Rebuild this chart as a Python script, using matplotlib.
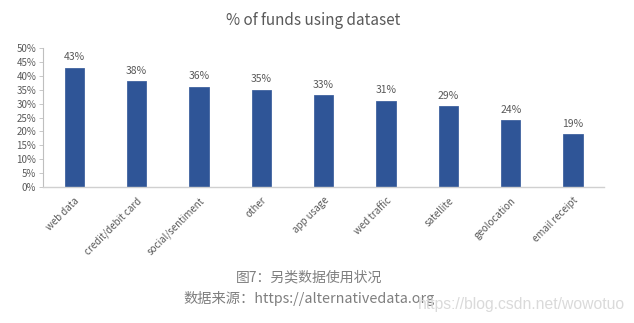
import matplotlib
matplotlib.use('Agg')
import matplotlib.pyplot as plt
import numpy as np

plt.rcParams['font.family'] = ['Noto Sans CJK SC', 'DejaVu Sans']

# data
categories = ['web data', 'credit/debit card', 'social/sentiment', 'other', 'app usage',
              'wed traffic', 'satellite', 'geolocation', 'email receipt']
share = [43, 38, 36, 35, 33, 31, 29, 24, 19]
yticks = [0, 5, 10, 15, 20, 25, 30, 35, 40, 45, 50]

txt = '#595959'
bar_c = '#2F5597'

fig = plt.figure(figsize=(6.34, 3.23), dpi=100)
ax = fig.add_axes([0.068, 0.421, 0.885, 0.430])

x = np.arange(len(categories))
ax.bar(x, share, width=0.31, color=bar_c, edgecolor='#41639F', linewidth=0.6)
for xi, v in zip(x, share):
    ax.text(xi, v + 2.0, f'{v}%', ha='center', va='bottom', fontsize=7.5, color=txt)

ax.set_xlim(-0.5, len(categories) - 0.5)
ax.set_ylim(0, 50)
ax.set_yticks(yticks)
ax.set_yticklabels([f'{t}%' for t in yticks], fontsize=7, color=txt)
ax.set_xticks(x)
ax.set_xticklabels(categories, rotation=45, ha='right', rotation_mode='anchor',
                   fontsize=7, color=txt)
ax.tick_params(axis='y', length=3, width=0.6, color='#BFBFBF', pad=2)
ax.tick_params(axis='x', length=0, pad=6)
for s in ['top', 'right']:
    ax.spines[s].set_visible(False)
ax.spines['left'].set_color('#BFBFBF')
ax.spines['bottom'].set_color('#D0D0D0')
ax.spines['left'].set_linewidth(0.8)
ax.spines['bottom'].set_linewidth(1.0)

fig.text(0.494, 0.938, '% of funds using dataset', ha='center', va='center',
         fontsize=11, color=txt)
fig.text(0.487, 0.142, '图7：另类数据使用状况', ha='center', va='center',
         fontsize=10, color='#7F7F7F')
fig.text(0.487, 0.077, '数据来源：https://alternativedata.org', ha='center', va='center',
         fontsize=10.3, color='#7F7F7F')
fig.text(0.659, 0.056, 'https://blog.csdn.net/wowotuo', ha='left', va='center',
         fontsize=11.3, color='#DADADA', family=['Liberation Sans', 'DejaVu Sans'])

fig.savefig('out.png', dpi=100)
